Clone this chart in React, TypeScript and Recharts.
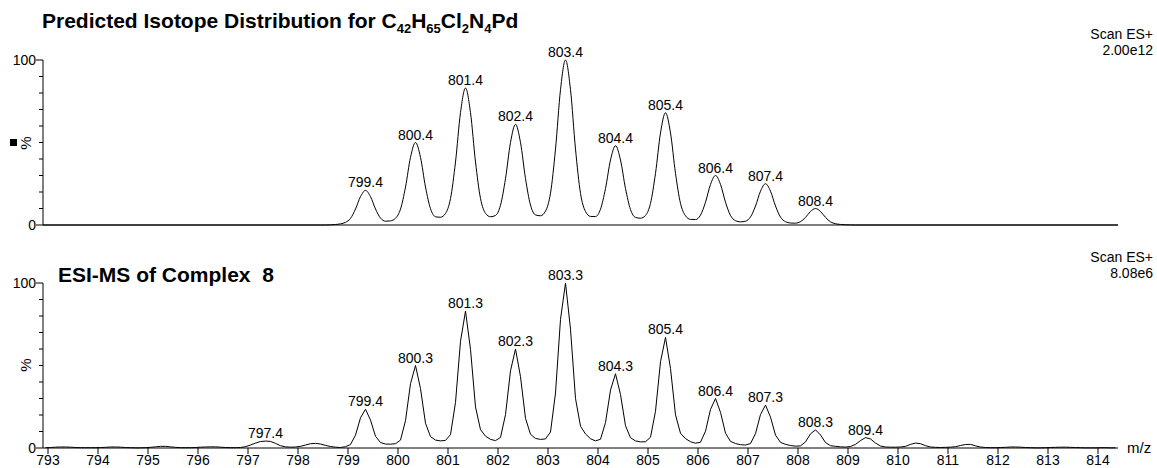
import { LineChart, Line, XAxis, YAxis, LabelList } from 'recharts';

// m/z ticks shared by both panels
const mzTicks = [793, 794, 795, 796, 797, 798, 799, 800, 801, 802, 803, 804, 805, 806, 807, 808, 809, 810, 811, 812, 813, 814];
const pctTicks = [0, 10, 20, 30, 40, 50, 60, 70, 80, 90, 100];

// predicted isotope pattern (top panel)
const mzPredicted = [
  792.9,
  798.55, 798.65, 798.75, 798.85, 798.95,
  799.05, 799.15, 799.25, 799.35, 799.45, 799.55, 799.65, 799.75, 799.85, 799.95,
  800.05, 800.15, 800.25, 800.35, 800.45, 800.55, 800.65, 800.75, 800.85, 800.95,
  801.05, 801.15, 801.25, 801.35, 801.45, 801.55, 801.65, 801.75, 801.85, 801.95,
  802.05, 802.15, 802.25, 802.35, 802.45, 802.55, 802.65, 802.75, 802.85, 802.95,
  803.05, 803.15, 803.25, 803.35, 803.45, 803.55, 803.65, 803.75, 803.85, 803.95,
  804.05, 804.15, 804.25, 804.35, 804.45, 804.55, 804.65, 804.75, 804.85, 804.95,
  805.05, 805.15, 805.25, 805.35, 805.45, 805.55, 805.65, 805.75, 805.85, 805.95,
  806.05, 806.15, 806.25, 806.35, 806.45, 806.55, 806.65, 806.75, 806.85, 806.95,
  807.05, 807.15, 807.25, 807.35, 807.45, 807.55, 807.65, 807.75, 807.85, 807.95,
  808.05, 808.15, 808.25, 808.35, 808.45, 808.55, 808.65, 808.75, 808.85, 808.95,
  809.05, 809.15,
  814.4,
];
const pctPredicted = [
  0,
  0, 0.1, 0.3, 0.7, 1.6,
  4.0, 9.7, 17.2, 21, 17.2, 9.7, 4.2, 2.3, 2.5, 4.1,
  9.6, 23, 41, 50, 41, 23, 9.9, 5.0, 4.7, 7.0,
  16.0, 38.2, 68.1, 83, 68.1, 38.2, 16.1, 7.1, 5.0, 5.8,
  12.0, 28.1, 50.0, 61, 50.0, 28.1, 12.1, 6.1, 5.6, 8.4,
  19.3, 46, 82, 100, 82, 46, 19.2, 8.2, 5.2, 5.1,
  9.6, 22.1, 39.4, 48, 39.4, 22.1, 9.4, 4.6, 4.1, 5.8,
  13.1, 31.3, 55.8, 68, 55.8, 31.3, 13.1, 5.6, 3.4, 3.3,
  6.0, 13.8, 24.6, 30, 24.6, 13.8, 5.8, 2.6, 1.9, 2.3,
  4.9, 11.5, 20.5, 25, 20.5, 11.5, 4.8, 2.0, 1.2, 1.1,
  2.0, 4.6, 8.2, 10, 8.2, 4.6, 1.9, 0.75, 0.35, 0.15,
  0.05, 0,
  0,
];
const peaksPredicted = [799.35, 800.35, 801.35, 802.35, 803.35, 804.35, 805.35, 806.35, 807.35, 808.35];
const labelsPredicted = ['799.4', '800.4', '801.4', '802.4', '803.4', '804.4', '805.4', '806.4', '807.4', '808.4'];

// measured ESI-MS spectrum (bottom panel)
const mzMeasured = [
  792.95,
  793.05, 793.15, 793.25, 793.35, 793.45, 793.55, 793.65, 793.75, 793.85, 793.95,
  794.05, 794.15, 794.25, 794.35, 794.45, 794.55, 794.65, 794.75, 794.85, 794.95,
  795.05, 795.15, 795.25, 795.35, 795.45, 795.55, 795.65, 795.75, 795.85, 795.95,
  796.05, 796.15, 796.25, 796.35, 796.45, 796.55, 796.65, 796.75, 796.85, 796.95,
  797.05, 797.15, 797.25, 797.35, 797.45, 797.55, 797.65, 797.75, 797.85, 797.95,
  798.05, 798.15, 798.25, 798.35, 798.45, 798.55, 798.65, 798.75, 798.85, 798.95,
  799.05, 799.15, 799.25, 799.35, 799.45, 799.55, 799.65, 799.75, 799.85, 799.95,
  800.05, 800.15, 800.25, 800.35, 800.45, 800.55, 800.65, 800.75, 800.85, 800.95,
  801.05, 801.15, 801.25, 801.35, 801.45, 801.55, 801.65, 801.75, 801.85, 801.95,
  802.05, 802.15, 802.25, 802.35, 802.45, 802.55, 802.65, 802.75, 802.85, 802.95,
  803.05, 803.15, 803.25, 803.35, 803.45, 803.55, 803.65, 803.75, 803.85, 803.95,
  804.05, 804.15, 804.25, 804.35, 804.45, 804.55, 804.65, 804.75, 804.85, 804.95,
  805.05, 805.15, 805.25, 805.35, 805.45, 805.55, 805.65, 805.75, 805.85, 805.95,
  806.05, 806.15, 806.25, 806.35, 806.45, 806.55, 806.65, 806.75, 806.85, 806.95,
  807.05, 807.15, 807.25, 807.35, 807.45, 807.55, 807.65, 807.75, 807.85, 807.95,
  808.05, 808.15, 808.25, 808.35, 808.45, 808.55, 808.65, 808.75, 808.85, 808.95,
  809.05, 809.15, 809.25, 809.35, 809.45, 809.55, 809.65, 809.75, 809.85, 809.95,
  810.05, 810.15, 810.25, 810.35, 810.45, 810.55, 810.65, 810.75, 810.85, 810.95,
  811.05, 811.15, 811.25, 811.35, 811.45, 811.55, 811.65, 811.75, 811.85, 811.95,
  812.05, 812.15, 812.25, 812.35, 812.45, 812.55, 812.65, 812.75, 812.85, 812.95,
  813.05, 813.15, 813.25, 813.35, 813.45, 813.55, 813.65, 813.75, 813.85, 813.95,
  814.05, 814.15, 814.25, 814.35,
];
const pctMeasured = [
  0.2,
  0.3, 0.5, 0.6, 0.6, 0.5, 0.3, 0.2, 0.2, 0.2, 0.2,
  0.3, 0.4, 0.6, 0.6, 0.5, 0.3, 0.2, 0.1, 0.1, 0.2,
  0.4, 0.7, 1.0, 1.0, 0.7, 0.4, 0.2, 0.2, 0.2, 0.3,
  0.5, 0.6, 0.7, 0.7, 0.5, 0.3, 0.2, 0.2, 0.3, 0.8,
  1.8, 3.0, 3.9, 4.2, 4.0, 2.8, 1.4, 0.7, 0.5, 0.6,
  1.0, 1.8, 2.6, 2.8, 2.4, 1.6, 0.9, 0.5, 0.3, 0.8,
  2.1, 7.8, 18.3, 23.5, 16.9, 7.1, 3.3, 2.4, 2.3, 2.6,
  4.8, 16.6, 39, 50, 36, 15, 6.9, 4.8, 4.3, 4.6,
  8.1, 27.6, 64.7, 83, 59.8, 24.9, 11.1, 7.2, 5.2, 4.5,
  6.4, 20.2, 46.8, 60, 43.2, 18, 8.3, 5.8, 5.2, 5.5,
  9.7, 33.3, 78, 100, 72, 30, 13.2, 8.5, 5.6, 4.3,
  5.3, 15.4, 35.1, 45, 32.4, 13.5, 6.2, 4.3, 3.7, 3.8,
  6.5, 22.3, 52.3, 67, 48.2, 20.1, 8.9, 5.7, 3.8, 2.9,
  3.5, 10.2, 23.4, 30, 21.6, 9, 4.0, 2.7, 2.0, 1.8,
  2.7, 8.7, 20.3, 26, 18.7, 7.8, 3.4, 2.2, 1.5, 1.1,
  1.3, 3.7, 8.6, 11, 7.9, 3.3, 1.4, 1.0, 0.7, 0.55,
  0.9, 2.2, 4.5, 6.3, 5.5, 3.0, 1.2, 0.6, 0.5, 0.5,
  0.6, 1.0, 2.2, 3.0, 2.6, 1.4, 0.6, 0.4, 0.3, 0.4,
  0.5, 0.8, 1.5, 2.1, 2.2, 1.3, 0.6, 0.3, 0.2, 0.2,
  0.3, 0.4, 0.6, 0.6, 0.5, 0.3, 0.2, 0.1, 0.1, 0.2,
  0.3, 0.4, 0.5, 0.5, 0.4, 0.3, 0.2, 0.1, 0.1, 0.1,
  0.2, 0.2, 0.1, 0.1,
];
const peaksMeasured = [797.35, 799.35, 800.35, 801.35, 802.35, 803.35, 804.35, 805.35, 806.35, 807.35, 808.35, 809.35];
const labelsMeasured = ['797.4', '799.4', '800.3', '801.3', '802.3', '803.3', '804.3', '805.4', '806.4', '807.3', '808.3', '809.4'];

const FONT = 'Liberation Sans, Arial, Helvetica, sans-serif';

function buildRows(mz: number[], pct: number[], peaks: number[], labels: string[]) {
  return mz.map((m, i) => {
    const k = peaks.indexOf(m);
    return { mz: m, pct: pct[i], tag: k >= 0 ? labels[k] : undefined };
  });
}

const topRows = buildRows(mzPredicted, pctPredicted, peaksPredicted, labelsPredicted);
const bottomRows = buildRows(mzMeasured, pctMeasured, peaksMeasured, labelsMeasured);

function YTick(props: any) {
  const { x, y, payload } = props;
  const major = payload.value === 0 || payload.value === 100;
  return (
    <g>
      <line x1={x - (major ? 7 : 4)} x2={x} y1={y} y2={y} stroke="#000" />
      {major && (
        <text x={x - 7} y={y} dy={5} textAnchor="end" fontSize={14} fontFamily={FONT} fill="#000">
          {payload.value}
        </text>
      )}
    </g>
  );
}

function Panel({ rows, height, top, bottom, showLabels, curve }: any) {
  return (
    <LineChart width={1157} height={height} data={rows} margin={{ top, right: 39, bottom: 0, left: 0 }}>
      <XAxis
        dataKey="mz"
        type="number"
        domain={[792.9, 814.4]}
        ticks={mzTicks}
        interval={0}
        allowDataOverflow
        height={bottom}
        stroke="#000"
        tickSize={6}
        tickMargin={1}
        tick={showLabels ? { fill: '#000', fontSize: 14, fontFamily: FONT } : false}
      />
      <YAxis
        type="number"
        domain={[0, 100]}
        ticks={pctTicks}
        interval={0}
        width={43}
        stroke="#000"
        tickLine={false}
        tickSize={0}
        tickMargin={0}
        tick={<YTick />}
      />
      <Line
        type={curve}
        dataKey="pct"
        stroke="#000"
        strokeWidth={1}
        dot={false}
        activeDot={false}
        isAnimationActive={false}
      >
        <LabelList dataKey="tag" position="top" offset={3} fontSize={14} fontFamily={FONT} fill="#000" />
      </Line>
    </LineChart>
  );
}

export default function App() {
  return (
    <div style={{ position: 'absolute', left: 0, top: 0, width: 1157, height: 468, background: '#fff' }}>
      <div style={{ position: 'absolute', left: 0, top: 0 }}>
        <Panel rows={topRows} height={250} top={60} bottom={25} showLabels={false} curve="monotone" />
      </div>
      <div style={{ position: 'absolute', left: 0, top: 250 }}>
        <Panel rows={bottomRows} height={218} top={33} bottom={20} showLabels curve="linear" />
      </div>
      <svg
        width={1157}
        height={468}
        style={{ position: 'absolute', left: 0, top: 0, pointerEvents: 'none' }}
        fontFamily={FONT}
        fill="#000"
      >
        <text x={42} y={28} fontSize={21} fontWeight="bold">
          Predicted Isotope Distribution for C
          <tspan fontSize={13} dy={5}>42</tspan>
          <tspan dy={-5}>H</tspan>
          <tspan fontSize={13} dy={5}>65</tspan>
          <tspan dy={-5}>Cl</tspan>
          <tspan fontSize={13} dy={5}>2</tspan>
          <tspan dy={-5}>N</tspan>
          <tspan fontSize={13} dy={5}>4</tspan>
          <tspan dy={-5}>Pd</tspan>
        </text>
        <text x={58} y={282} fontSize={21} fontWeight="bold" style={{ whiteSpace: 'pre' }}>
          {'ESI-MS of Complex  8'}
        </text>

        <text x={1153} y={39} fontSize={14} textAnchor="end">Scan ES+</text>
        <text x={1153} y={55} fontSize={14} textAnchor="end">2.00e12</text>
        <text x={1153} y={262} fontSize={14} textAnchor="end">Scan ES+</text>
        <text x={1153} y={278} fontSize={14} textAnchor="end">8.08e6</text>

        <rect x={10} y={139} width={7} height={7} fill="#000" />
        <text x={26} y={143} fontSize={15} textAnchor="middle" dy={5} transform="rotate(-90 26 143)">%</text>
        <text x={26} y={365} fontSize={15} textAnchor="middle" dy={5} transform="rotate(-90 26 365)">%</text>

        <text x={1127} y={453} fontSize={15}>m/z</text>
      </svg>
    </div>
  );
}
